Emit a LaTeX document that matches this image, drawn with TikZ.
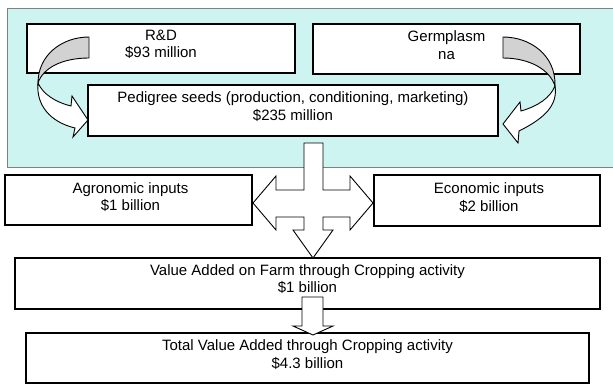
\documentclass[tikz,border=0pt]{standalone}
\usepackage{fontspec}
\setmainfont{Liberation Sans}
\definecolor{panelteal}{RGB}{206,244,242}
\begin{document}
\begin{tikzpicture}[x=1pt,y=-1pt,line join=miter,
	box/.style={draw=black,line width=2.2pt,fill=white,inner sep=0pt},
	txt/.style={align=center,font=\fontsize{15}{17.5}\selectfont,inner sep=0pt},
	blockarrow/.style={draw=black,line width=0.9pt,fill=white},
	twist/.style={draw=black,line width=0.9pt,fill=gray!35}]
	\useasboundingbox (0,0) rectangle (613,383);
	\fill[panelteal,draw=gray] (7,8) rectangle (616,167);
	% boxes
	\node[box,minimum width=268pt,minimum height=49pt] (rd) at (161,48.5) {};
	\node[box,minimum width=267pt,minimum height=50pt] (germ) at (446.5,49) {};
	\node[box,minimum width=410pt,minimum height=51pt] (ped) at (293,110.5) {};
	\node[box,minimum width=247pt,minimum height=50pt] (agro) at (128.5,200) {};
	\node[box,minimum width=226pt,minimum height=51pt] (econ) at (487,200.5) {};
	\node[box,minimum width=585pt,minimum height=51pt] (farm) at (307.5,283.5) {};
	\node[box,minimum width=563pt,minimum height=50pt] (total) at (307.5,358) {};
	% texts
	\node[txt] (rdtext) at ([yshift=4pt]rd.center) {R\&D\\\$93 million};
	\node[txt] (germtext) at ([yshift=4pt]germ.center) {Germplasm\\na};
	\node[txt] (pedtext) at ([yshift=4pt]ped.center) {Pedigree seeds (production, conditioning, marketing)\\\$235 million};
	\node[txt] (agrotext) at ([xshift=2pt,yshift=3pt]agro.center) {Agronomic inputs\\\$1 billion};
	\node[txt] (econtext) at ([xshift=2pt,yshift=3pt]econ.center) {Economic inputs\\\$2 billion};
	\node[txt] (farmtext) at ([yshift=4.5pt]farm.center) {Value Added on Farm through Cropping activity\\\$1 billion};
	\node[txt] (totaltext) at ([yshift=3.5pt]total.center) {Total Value Added through Cropping activity\\\$4.3 billion};
	% curved arrows
	\draw[twist] (89,37) .. controls (62,37) and (38,55) .. (38,83) .. controls (43,68) and (62,58) .. (89,58) -- cycle;
	\draw[blockarrow] (38,83) .. controls (36,105) and (50,122) .. (75,128) -- (73,137) -- (88,120) -- (72,96) -- (71,106) .. controls (55,102) and (43,94) .. (38,83) -- cycle;
	\draw[twist] (503,37) .. controls (530,37) and (556,55) .. (555,86) .. controls (550,70) and (530,58) .. (503,58) -- cycle;
	\draw[blockarrow] (555,86) .. controls (558,105) and (545,118) .. (519,131) -- (518,143) -- (503,124) -- (520,102) -- (521,111) .. controls (538,106) and (550,98) .. (555,86) -- cycle;
	% block arrows
	\draw[blockarrow] (304,143) -- (304,190) -- (276,190) -- (276,176) -- (253,203) -- (276,230) -- (276,217) -- (304,217) -- (304,230) -- (293,230) -- (313,258) -- (333,230) -- (323,230) -- (323,217) -- (350,217) -- (350,230) -- (373,203) -- (350,176) -- (350,190) -- (323,190) -- (323,143) -- cycle;
	\draw[blockarrow] (302,297) -- (302,326) -- (293,326) -- (313,335) -- (333,326) -- (323,326) -- (323,297) -- cycle;
\end{tikzpicture}
\end{document}
